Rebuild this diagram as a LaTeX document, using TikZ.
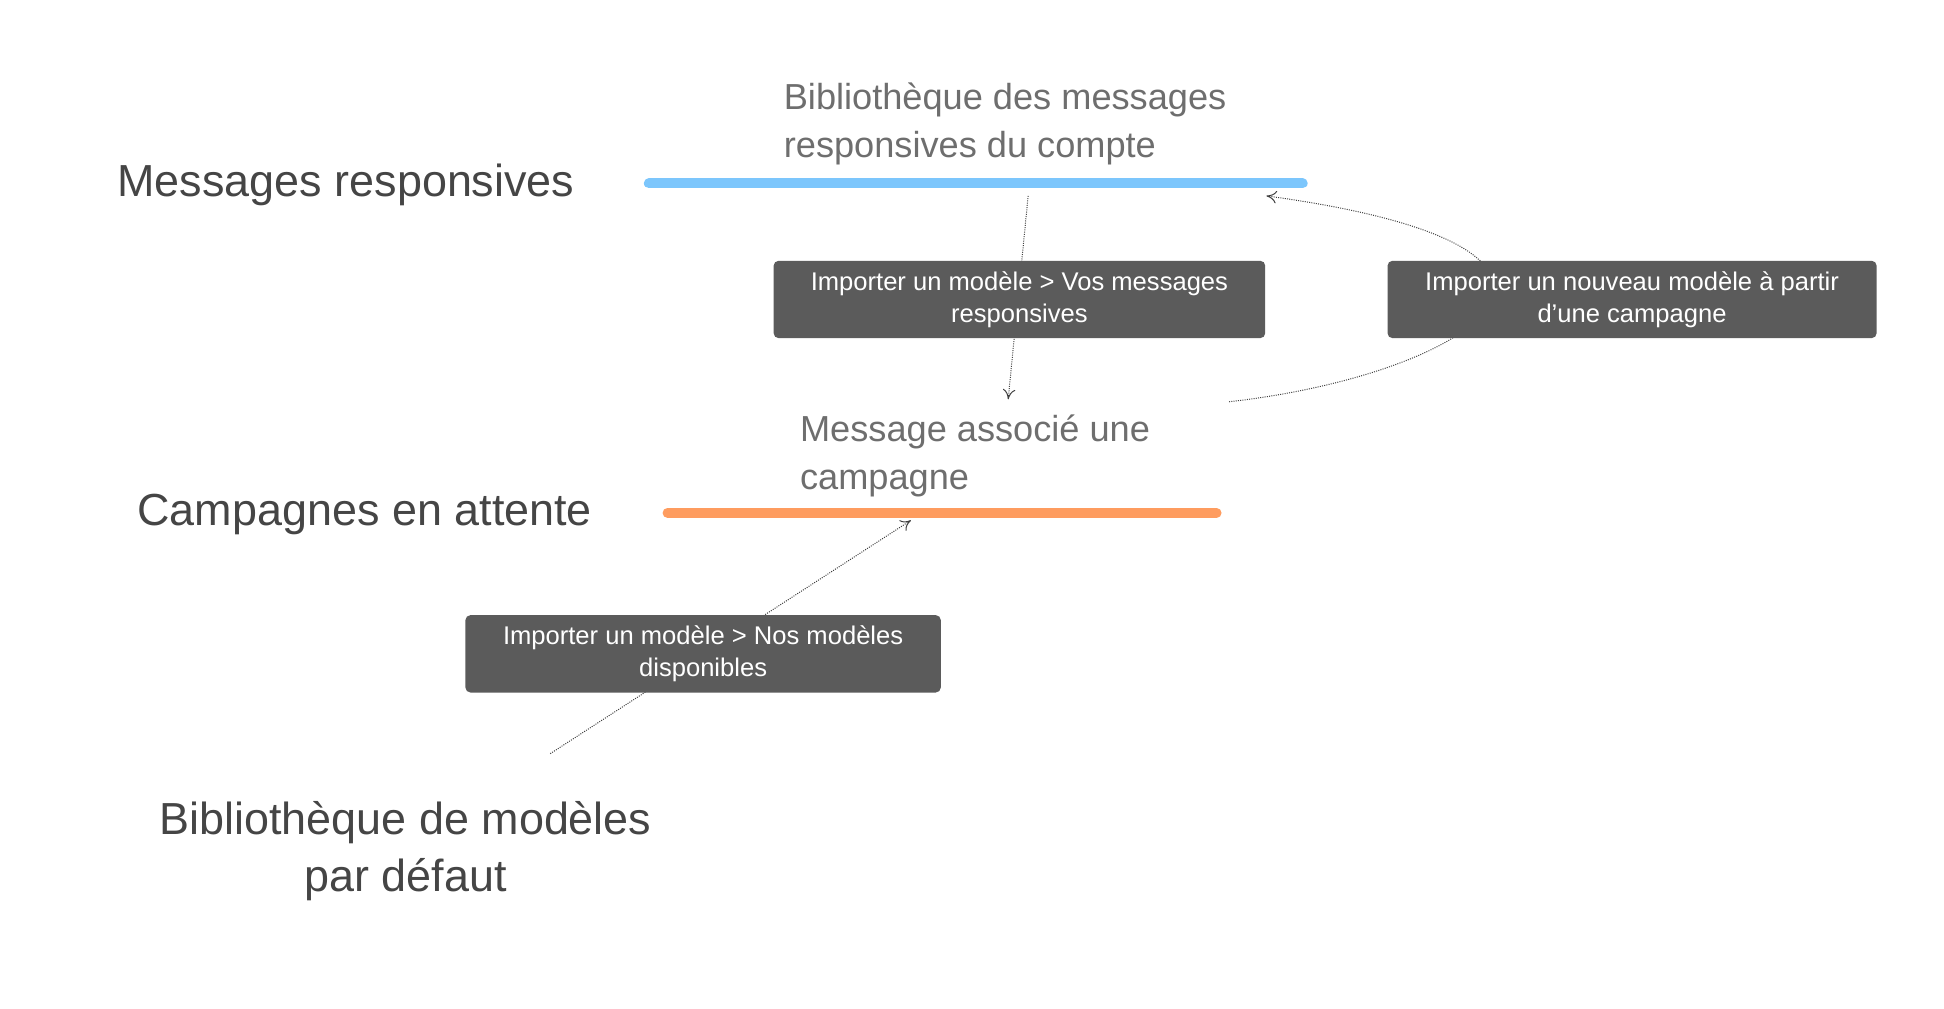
\documentclass[tikz,border=0pt]{standalone}
\usepackage{fontspec}
\setmainfont{Liberation Sans}
\usetikzlibrary{arrows.meta}
\definecolor{blueline}{HTML}{7CC6FC}
\definecolor{orangeline}{HTML}{FE9C5F}
\definecolor{boxgray}{HTML}{5B5B5B}
\definecolor{darktext}{HTML}{454545}
\definecolor{graytext}{HTML}{6E6E6E}
\begin{document}
\begin{tikzpicture}[x=1pt,y=-1pt,
  big/.style={font=\fontsize{36}{46}\selectfont, text=darktext, inner sep=0pt},
  sub/.style={font=\fontsize{29}{39}\selectfont, text=graytext, inner sep=0pt, align=left, anchor=north west},
  lab/.style={fill=boxgray, rounded corners=4pt, text=white, font=\fontsize{20.5}{26}\selectfont, align=center, minimum width=#1, minimum height=62pt, inner sep=2pt},
  conn/.style={densely dotted, line width=0.8pt, draw=black!75, -{To[length=8pt,width=10pt]}},
  bar/.style={line width=8pt, line cap=round}]
\useasboundingbox (0,0) rectangle (1558,808);
\node[big, anchor=west] (mr) at (94,148) {Messages responsives};
\node[big, anchor=west] (ca) at (110,412) {Campagnes en attente};
\node[big, align=center] (bib) at (325,682) {Bibliothèque de modèles\\par défaut};
\coordinate (b1) at (520,147); \coordinate (b2) at (1044,147);
\coordinate (o1) at (535,411); \coordinate (o2) at (975,411);
\draw[bar, blueline] (b1) -- (b2);
\draw[bar, orangeline] (o1) -- (o2);
\node[sub] (lib) at (628,66) {Bibliothèque des messages\\responsives du compte};
\node[sub] (msg) at (641,332) {Message associé une\\campagne};
\coordinate (s1) at (824,157); \coordinate (e1) at (808,320);
\coordinate (s2) at (985,322); \coordinate (e2) at (1015,157);
\coordinate (s3) at (441,604); \coordinate (e3) at (730,417);
\draw[conn] (s1) -- (e1);
\draw[conn] (s2) .. controls (1180,300) and (1330,200) .. (e2);
\draw[conn] (s3) -- (e3);
\node[lab=394pt] (l1) at (817,240) {Importer un modèle > Vos messages\\responsives};
\node[lab=392pt] (l2) at (1308,240) {Importer un nouveau modèle à partir\\d'une campagne};
\node[lab=381pt] (l3) at (563.5,524) {Importer un modèle > Nos modèles\\disponibles};
\end{tikzpicture}
\end{document}
